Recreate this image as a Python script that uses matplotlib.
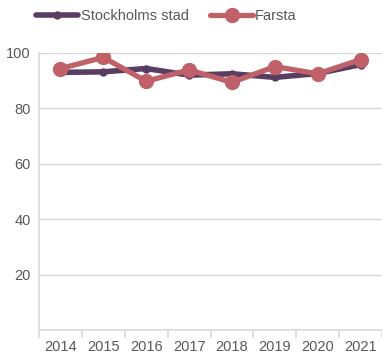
import numpy as np
import matplotlib.pyplot as plt

plt.rcParams['font.family'] = ['Liberation Sans', 'DejaVu Sans']

years = ['2014', '2015', '2016', '2017', '2018', '2019', '2020', '2021']
stockholm = [93.0, 93.2, 94.4, 92.0, 92.5, 91.2, 92.6, 95.8]
farsta = [94.4, 98.4, 89.8, 93.9, 89.4, 95.1, 92.5, 97.6]

stockholm_color = '#5a3d62'
farsta_color = '#c0616a'
text_color = '#595959'
grid_color = '#d9d9d9'

fig = plt.figure(figsize=(3.82, 3.55), dpi=100)
ax = fig.add_axes([39/382, 1 - 330/355, 343/382, 277/355])

x = np.arange(len(years))
ax.plot(x, stockholm, color=stockholm_color, lw=4, marker='o', ms=5,
        label='Stockholms stad', solid_capstyle='round', zorder=3)
ax.plot(x, farsta, color=farsta_color, lw=3.8, marker='o', ms=10,
        label='Farsta', solid_capstyle='round', zorder=4)

ax.set_xlim(-0.5, len(years) - 0.5)
ax.set_ylim(0, 100)
ax.set_yticks([20, 40, 60, 80, 100])
ax.yaxis.grid(True, color=grid_color, lw=1)
ax.set_axisbelow(True)

# year labels centred in each slot, tick marks on the slot borders
ax.set_xticks(x)
ax.set_xticklabels(years)
ax.set_xticks(np.arange(-0.5, len(years)), minor=True)
ax.tick_params(axis='x', which='major', length=0, pad=12, labelsize=10.5, labelcolor=text_color)
ax.tick_params(axis='x', which='minor', length=6, color=grid_color, width=1.2, direction='out')
ax.tick_params(axis='y', length=0, pad=6, labelsize=10.5, labelcolor=text_color)
for lbl in ax.get_xticklabels():
    lbl.set_verticalalignment('center')

for side in ['top', 'right']:
    ax.spines[side].set_visible(False)
ax.spines['left'].set_color(grid_color)
ax.spines['bottom'].set_color(grid_color)
ax.spines['left'].set_linewidth(1.2)
ax.spines['bottom'].set_linewidth(1.2)

fig.legend(loc='upper left', bbox_to_anchor=(0.06, 1.012), ncol=2, frameon=False,
           fontsize=10.5, labelcolor=text_color, handlelength=2.9, handletextpad=0.15,
           columnspacing=1.5)

fig.savefig('out.png', dpi=100)
